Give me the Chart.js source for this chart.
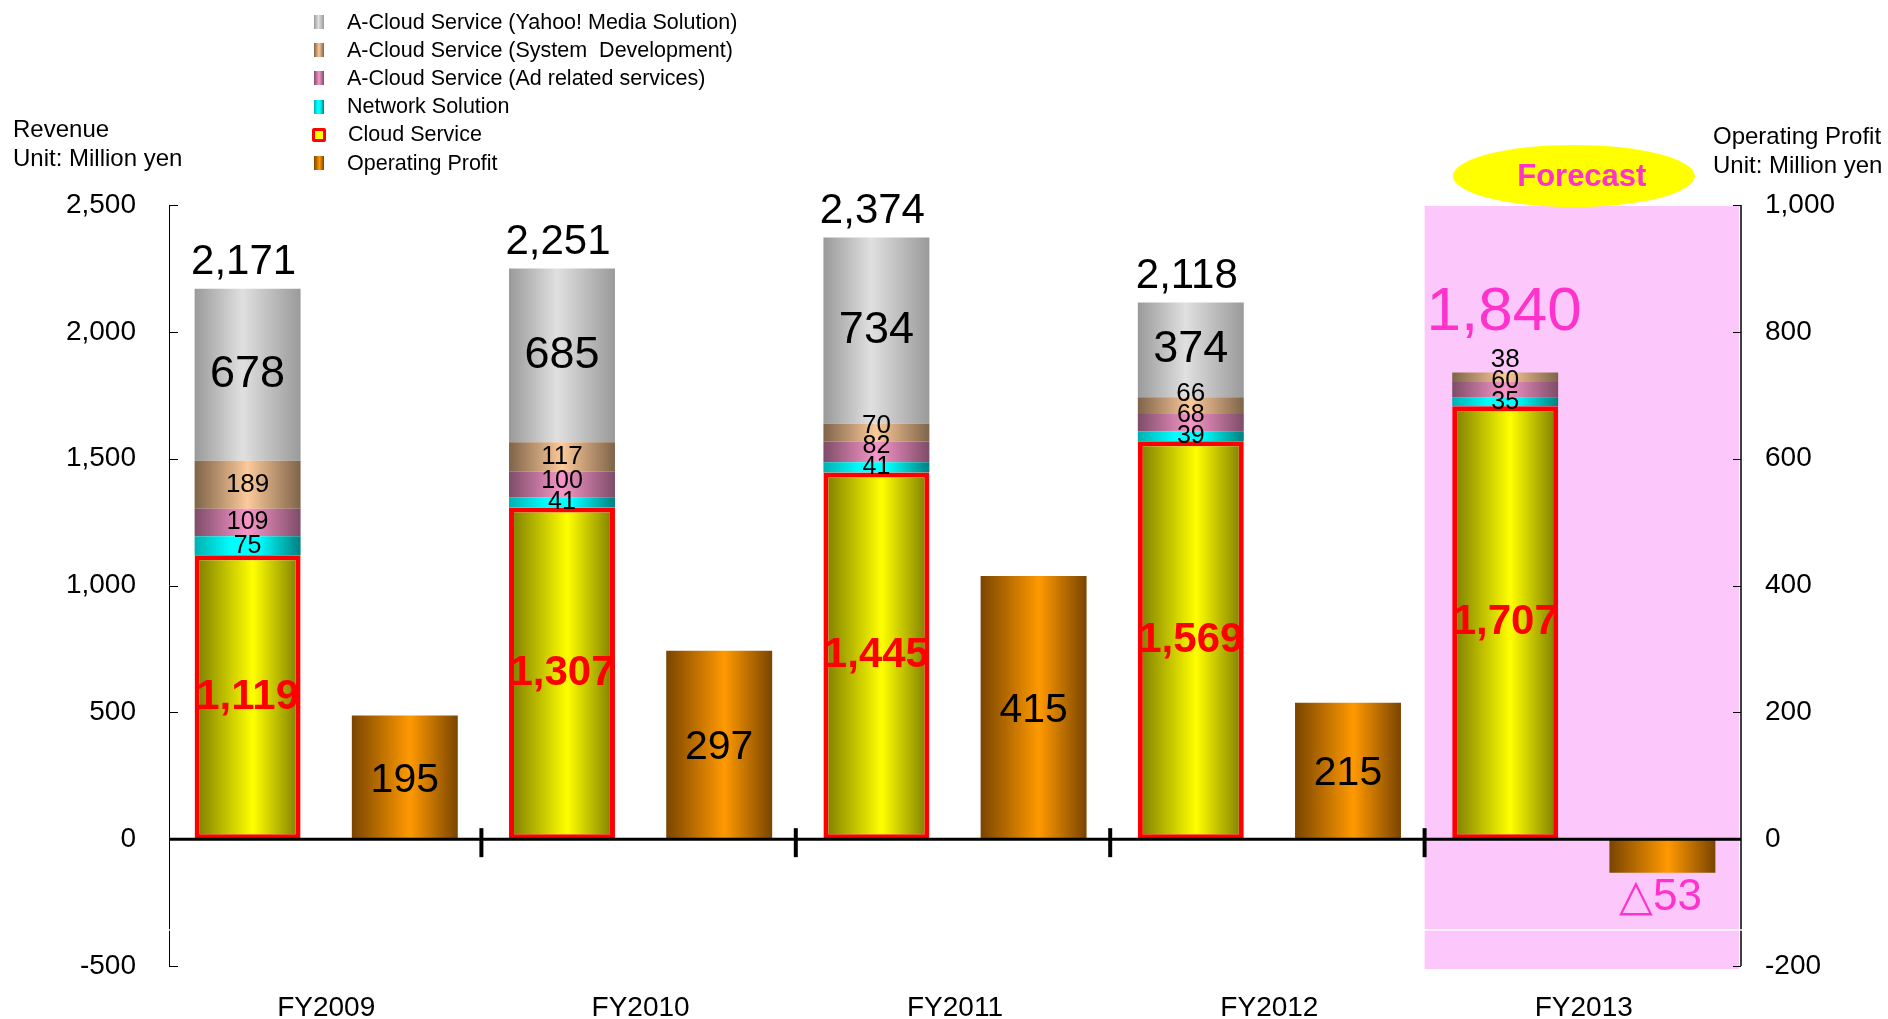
<!DOCTYPE html>
<html>
<head>
<meta charset="utf-8">
<script src="https://cdn.jsdelivr.net/npm/chart.js@4.4.0/dist/chart.umd.min.js"></script>
<style>
  html, body { margin: 0; padding: 0; background: #ffffff; }
  #wrap { position: relative; width: 1888px; height: 1019px; font-family: "Liberation Sans", Arial, sans-serif; color: #000; }
  #c { position: absolute; left: 0; top: 0; }
  .txt { position: absolute; white-space: pre; line-height: 1; }
  .lgrow { position: absolute; left: 312px; height: 28px; display: flex; align-items: center; white-space: pre; font-size: 21.5px; }
  .mk { display: inline-block; width: 10px; height: 14px; margin-right: 23px; margin-left: 2px; }
  .mk.cloud { width: 8px; height: 8px; border: 3px solid #ff0000; border-radius: 2px; margin-left: 0; margin-right: 22px; }
</style>
</head>
<body>
<div id="wrap">
  <canvas id="c" width="1888" height="1019"></canvas>
  <div id="legend"></div>
  <div class="txt" style="left:13px; top:117px; font-size:24px;">Revenue</div>
  <div class="txt" style="left:13px; top:146px; font-size:24px;">Unit: Million yen</div>
  <div class="txt" style="left:1713px; top:124px; font-size:24px;">Operating Profit</div>
  <div class="txt" style="left:1713px; top:153px; font-size:24px;">Unit: Million yen</div>
</div>
<script>
// ---------------- DATA ----------------
const categories        = ['FY2009', 'FY2010', 'FY2011', 'FY2012', 'FY2013'];
const cloudService      = [1119, 1307, 1445, 1569, 1707];
const networkSolution   = [75, 41, 41, 39, 35];
const adRelated         = [109, 100, 82, 68, 60];
const systemDevelopment = [189, 117, 70, 66, 38];
const yahooMedia        = [678, 685, 734, 374, null];
const revenueTotal      = [2171, 2251, 2374, 2118, 1840];
const operatingProfit   = [195, 297, 415, 215, -53];
const revenueAxis       = [-500, 2500, 500];   // min, max, step
const profitAxis        = [-200, 1000, 200];   // min, max, step
const forecastCategory  = 'FY2013';

const seriesNames = {
  yahoo: 'A-Cloud Service (Yahoo! Media Solution)',
  sys:   'A-Cloud Service (System  Development)',
  ad:    'A-Cloud Service (Ad related services)',
  net:   'Network Solution',
  cloud: 'Cloud Service',
  op:    'Operating Profit'
};

// ---------------- STYLES ----------------
const FONT = '"Liberation Sans", Arial, sans-serif';
const STY = {
  cloud: { stops: [[0, '#7a7a00'], [0.55, '#ffff00'], [1, '#7a7a00']], font: 'bold 42px ' + FONT, color: '#ff0000' },
  net:   { stops: [[0, '#00b0b0'], [0.35, '#00ffff'], [0.6, '#00ffff'], [1, '#008080']], font: '25px ' + FONT, color: '#000' },
  ad:    { stops: [[0, '#7e4c68'], [0.5, '#f796c9'], [1, '#7e4c68']], font: '25px ' + FONT, color: '#000' },
  sys:   { stops: [[0, '#7e6449'], [0.5, '#fcc99a'], [1, '#7e6449']], font: '26px ' + FONT, color: '#000' },
  yahoo: { stops: [[0, '#9a9a9a'], [0.45, '#e0e0e0'], [1, '#9a9a9a']], font: '45px ' + FONT, color: '#000' },
  op:    { stops: [[0, '#7a4500'], [0.55, '#ff9900'], [1, '#7a4500']], font: '41px ' + FONT, color: '#000' }
};
const MAGENTA = '#ff33cc';
const LABEL_GAP = 21;

function cssGrad(stops) {
  return 'linear-gradient(to right,' + stops.map(s => s[1] + ' ' + (s[0] * 100) + '%').join(',') + ')';
}

// ---------------- LEGEND (HTML text) ----------------
(function buildLegend() {
  const order = ['yahoo', 'sys', 'ad', 'net', 'cloud', 'op'];
  const lg = document.getElementById('legend');
  order.forEach((k, i) => {
    const row = document.createElement('div');
    row.className = 'lgrow';
    row.style.top = (8 + i * 28.2) + 'px';
    const mk = document.createElement('span');
    mk.className = 'mk' + (k === 'cloud' ? ' cloud' : '');
    mk.style.background = k === 'cloud' ? '#ffff00' : cssGrad(STY[k].stops);
    const t = document.createElement('span');
    t.textContent = seriesNames[k];
    row.appendChild(mk); row.appendChild(t);
    lg.appendChild(row);
  });
})();

// ---------------- DATASETS ----------------
function revDs(key, data, extra) {
  return Object.assign({
    label: seriesNames[key], key, data, stack: 'rev', yAxisID: 'y',
    backgroundColor: () => '#cccccc', borderWidth: 0,
    barPercentage: 0.674, categoryPercentage: 1
  }, extra || {});
}
const datasets = [
  revDs('cloud', cloudService, { borderColor: '#ff0000', borderWidth: 5, borderSkipped: false }),
  revDs('net', networkSolution),
  revDs('ad', adRelated),
  revDs('sys', systemDevelopment),
  revDs('yahoo', yahooMedia),
  { label: seriesNames.op, key: 'op', data: operatingProfit, stack: 'op', yAxisID: 'y1',
    backgroundColor: () => '#cc7700', borderWidth: 0, barPercentage: 0.674, categoryPercentage: 1 }
];

// ---------------- PLUGINS ----------------
const gradientPlugin = {
  id: 'grad',
  beforeDatasetsDraw(chart) {
    const ctx = chart.ctx;
    chart.data.datasets.forEach((ds, di) => {
      const st = STY[ds.key];
      chart.getDatasetMeta(di).data.forEach(el => {
        if (!el || el.width == null || isNaN(el.x)) return;
        const g = ctx.createLinearGradient(el.x - el.width / 2, 0, el.x + el.width / 2, 0);
        st.stops.forEach(s => g.addColorStop(s[0], s[1]));
        el.options.backgroundColor = g;
      });
    });
  }
};

const backgroundPlugin = {
  id: 'bg',
  beforeDraw(chart) {
    const ctx = chart.ctx, ca = chart.chartArea, xs = chart.scales.x;
    const fi = categories.indexOf(forecastCategory);
    const left = (xs.getPixelForValue(fi - 1) + xs.getPixelForValue(fi)) / 2 - 2;
    ctx.save();
    ctx.fillStyle = '#fcc8fc';
    ctx.fillRect(left, ca.top + 1, ca.right - 2 - left, ca.bottom + 3 - ca.top - 1);
    ctx.restore();
  }
};

function fmt(v) { return Math.abs(v).toLocaleString('en-US'); }

const overlayPlugin = {
  id: 'overlay',
  afterDatasetsDraw(chart) {
    const ctx = chart.ctx, ca = chart.chartArea;
    const xs = chart.scales.x, ys = chart.scales.y, y1 = chart.scales.y1;
    const zeroY = ys.getPixelForValue(0);
    ctx.save();
    // zero line
    ctx.strokeStyle = '#000'; ctx.lineWidth = 3;
    ctx.beginPath(); ctx.moveTo(ca.left, zeroY); ctx.lineTo(ca.right, zeroY); ctx.stroke();
    // category dividers on zero line
    ctx.lineWidth = 4;
    for (let k = 1; k < categories.length; k++) {
      const px = (xs.getPixelForValue(k - 1) + xs.getPixelForValue(k)) / 2 - 2;
      ctx.beginPath(); ctx.moveTo(px, zeroY - 11); ctx.lineTo(px, zeroY + 18); ctx.stroke();
    }
    // axis lines
    ctx.lineWidth = 1;
    ctx.beginPath(); ctx.moveTo(ca.left + 0.5, ca.top); ctx.lineTo(ca.left + 0.5, ca.bottom); ctx.stroke();
    ys.ticks.forEach(t => {
      const py = Math.round(ys.getPixelForValue(t.value)) + 0.5;
      ctx.beginPath(); ctx.moveTo(ca.left, py); ctx.lineTo(ca.left + 9, py); ctx.stroke();
    });
    ctx.lineWidth = 1.5;
    ctx.beginPath(); ctx.moveTo(ca.right, ca.top); ctx.lineTo(ca.right, ca.bottom); ctx.stroke();
    ctx.lineWidth = 1;
    y1.ticks.forEach(t => {
      const py = Math.round(y1.getPixelForValue(t.value)) + 0.5;
      ctx.beginPath(); ctx.moveTo(ca.right - 8, py); ctx.lineTo(ca.right, py); ctx.stroke();
    });
    // thin white break line near the bottom
    ctx.strokeStyle = '#ffffff'; ctx.lineWidth = 1.5;
    const wy = ys.getPixelForValue(-358);
    ctx.beginPath(); ctx.moveTo(ca.left - 2, wy); ctx.lineTo(ca.right + 2, wy); ctx.stroke();

    // labels
    ctx.textAlign = 'center'; ctx.textBaseline = 'middle';
    const fi = categories.indexOf(forecastCategory);
    const opIdx = chart.data.datasets.findIndex(d => d.key === 'op');
    for (let i = 0; i < categories.length; i++) {
      let prevY = Infinity;
      chart.data.datasets.forEach((ds, di) => {
        if (ds.stack !== 'rev') return;
        const v = ds.data[i];
        if (v == null || v === 0) return;
        const el = chart.getDatasetMeta(di).data[i];
        let y = (el.y + el.base) / 2;
        if (y > prevY - LABEL_GAP) y = prevY - LABEL_GAP;
        prevY = y;
        ctx.font = STY[ds.key].font; ctx.fillStyle = STY[ds.key].color;
        ctx.fillText(fmt(v), el.x, y);
      });
      // totals
      const topY = ys.getPixelForValue(revenueTotal[i]);
      const bx = chart.getDatasetMeta(0).data[i].x;
      ctx.textBaseline = 'alphabetic';
      if (i === fi) {
        ctx.font = '62px ' + FONT; ctx.fillStyle = MAGENTA;
        ctx.fillText(fmt(revenueTotal[i]), bx - 1, topY - 42);
      } else {
        ctx.font = '42px ' + FONT; ctx.fillStyle = '#000';
        ctx.fillText(fmt(revenueTotal[i]), bx - 4, topY - 14);
      }
      ctx.textBaseline = 'middle';
      // operating profit
      const oel = chart.getDatasetMeta(opIdx).data[i];
      const ov = operatingProfit[i];
      if (ov >= 0) {
        ctx.font = STY.op.font; ctx.fillStyle = STY.op.color;
        ctx.fillText(fmt(ov), oel.x, (oel.y + oel.base) / 2 + 3);
      } else {
        ctx.font = '44px ' + FONT; ctx.fillStyle = MAGENTA;
        ctx.fillText('\u25B3' + fmt(ov), oel.x - 2, oel.y + 25);
      }
    }
    ctx.restore();
  },
  afterDraw(chart) {
    const ctx = chart.ctx, ca = chart.chartArea, xs = chart.scales.x;
    const fi = categories.indexOf(forecastCategory);
    const cx = xs.getPixelForValue(fi) - 10, cy = ca.top - 29;
    ctx.save();
    ctx.fillStyle = '#ffff00';
    ctx.beginPath(); ctx.ellipse(cx, cy, 121, 31, 0, 0, Math.PI * 2); ctx.fill();
    ctx.fillStyle = MAGENTA; ctx.font = 'bold 31px ' + FONT;
    ctx.textAlign = 'center'; ctx.textBaseline = 'middle';
    ctx.fillText('Forecast', cx + 8, cy + 1);
    ctx.restore();
  }
};

// ---------------- CHART ----------------
const tickFont = { family: FONT, size: 28 };
new Chart(document.getElementById('c'), {
  type: 'bar',
  data: { labels: categories, datasets },
  options: {
    responsive: false,
    animation: false,
    events: [],
    layout: { padding: { top: 205, left: 0, right: 0, bottom: 0 } },
    plugins: { legend: { display: false }, tooltip: { enabled: false } },
    scales: {
      x: {
        stacked: true,
        grid: { display: false }, border: { display: false },
        ticks: { font: tickFont, color: '#000', padding: 17 },
        afterFit(s) { s.height = 53; }
      },
      y: {
        position: 'left', stacked: true,
        min: revenueAxis[0], max: revenueAxis[1],
        grid: { display: false }, border: { display: false },
        ticks: { stepSize: revenueAxis[2], font: tickFont, color: '#000', padding: 25,
                 callback: v => v.toLocaleString('en-US') },
        afterFit(s) { s.width = 169; }
      },
      y1: {
        position: 'right', stacked: true,
        min: profitAxis[0], max: profitAxis[1],
        grid: { display: false }, border: { display: false },
        ticks: { stepSize: profitAxis[2], font: tickFont, color: '#000', padding: 16,
                 callback: v => v.toLocaleString('en-US') },
        afterFit(s) { s.width = 147; }
      }
    }
  },
  plugins: [backgroundPlugin, gradientPlugin, overlayPlugin]
});
</script>
</body>
</html>
